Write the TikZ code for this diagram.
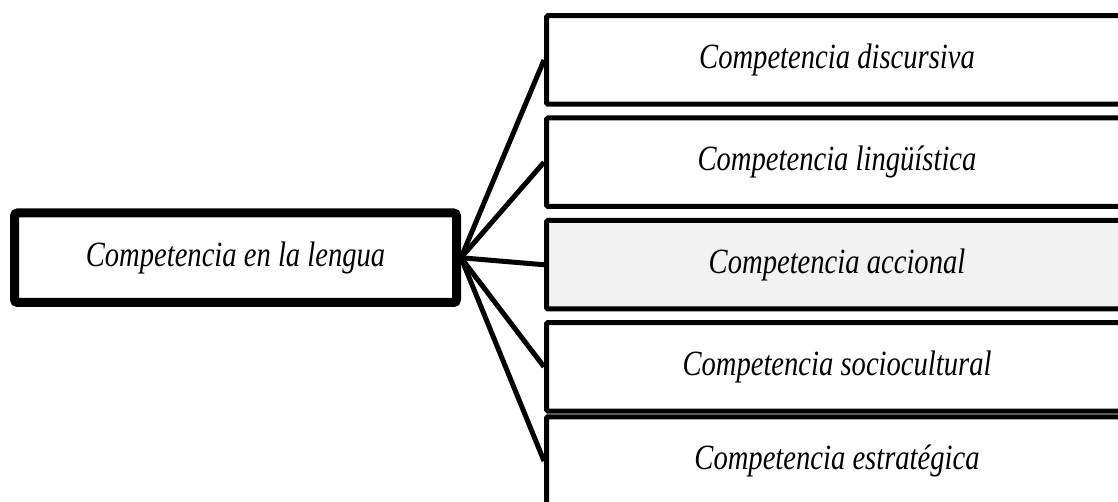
\documentclass[tikz,border=0pt]{standalone}
\usepackage{fontspec}
\setmainfont{Liberation Serif}
\definecolor{boxgray}{HTML}{F2F2F2}
\newcommand\vstretch[1]{\scalebox{1}[1.24]{#1}}
\begin{document}
\begin{tikzpicture}[x=1pt,y=-1pt,
  every node/.style={inner sep=0pt, font=\fontsize{28.6}{34}\selectfont\itshape},
  rootbox/.style={draw, line width=9pt, rounded corners=3pt, minimum width=442pt, minimum height=89.5pt},
  compbox/.style={draw, line width=5pt, rounded corners=1.5pt, minimum width=581pt, minimum height=88.5pt},
  link/.style={line width=5pt}]
\useasboundingbox (0,0) rectangle (1118,502);
\clip (0,0) rectangle (1118,502);
\node[rootbox] (root) at (235.5,257.75) {\vstretch{Competencia en la lengua}};
\node[compbox] (c1) at (837,60) {\vstretch{Competencia discursiva}};
\node[compbox] (c2) at (837,162.25) {\vstretch{Competencia lingüística}};
\node[compbox, fill=boxgray] (c3) at (837,264.75) {\vstretch{Competencia accional}};
\node[compbox] (c4) at (837,366.75) {\vstretch{Competencia sociocultural}};
\node[compbox] (c5) at (837,461) {\vstretch{Competencia estratégica}};
\foreach \c in {c1,c2,c3,c4,c5}
  \draw[link] (root.east) -- (\c.west);
\end{tikzpicture}
\end{document}
